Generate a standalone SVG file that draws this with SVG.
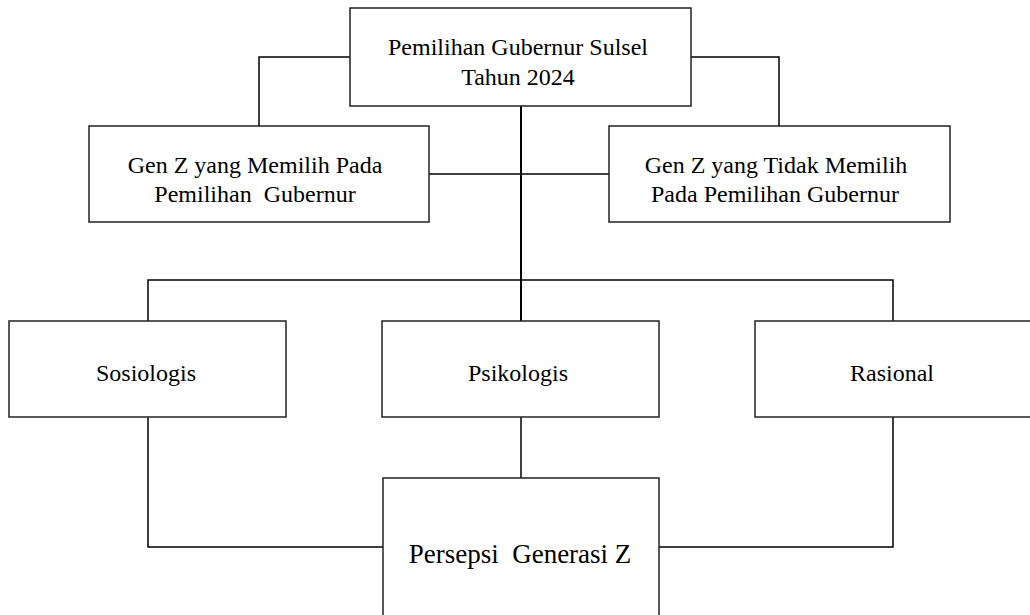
<svg xmlns="http://www.w3.org/2000/svg" width="1030" height="615" viewBox="0 0 1030 615">
<style>
.box{fill:#fff;stroke:#222;stroke-width:1.5}
.ln{fill:none;stroke:#000;stroke-width:1.5}
text{font-family:"Liberation Serif","Times New Roman",serif;font-size:24px;fill:#000;text-anchor:middle;white-space:pre}
.big{font-size:27px}
</style>
<rect width="1030" height="615" fill="#fff"/>
<g id="connectors">
<polyline class="ln" points="350,57 259,57 259,126"/>
<polyline class="ln" points="691,57 779,57 779,126"/>
<line class="ln" x1="521" y1="106" x2="521" y2="321" style="stroke-width:2"/>
<line class="ln" x1="429" y1="174" x2="609" y2="174"/>
<polyline class="ln" points="148,321 148,280 893,280 893,321"/>
<polyline class="ln" points="148,417 148,547 383,547"/>
<line class="ln" x1="521" y1="417" x2="521" y2="478"/>
<polyline class="ln" points="893,417 893,547 659,547"/>
</g>
<g id="top">
<rect class="box" x="350" y="8" width="341" height="98"/>
<text x="518" y="55">Pemilihan Gubernur Sulsel</text>
<text x="518" y="85">Tahun 2024</text>
</g>
<g id="memilih">
<rect class="box" x="89" y="126" width="340" height="96"/>
<text x="255" y="173">Gen Z yang Memilih Pada</text>
<text x="255" y="202">Pemilihan  Gubernur</text>
</g>
<g id="tidak-memilih">
<rect class="box" x="609" y="126" width="341" height="96"/>
<text x="776" y="173">Gen Z yang Tidak Memilih</text>
<text x="775" y="202">Pada Pemilihan Gubernur</text>
</g>
<g id="sosiologis">
<rect class="box" x="9" y="321" width="277" height="96"/>
<text x="146" y="381">Sosiologis</text>
</g>
<g id="psikologis">
<rect class="box" x="382" y="321" width="277" height="96"/>
<text x="518" y="381">Psikologis</text>
</g>
<g id="rasional">
<rect class="box" x="755" y="321" width="280" height="96"/>
<text x="892" y="381">Rasional</text>
</g>
<g id="persepsi">
<rect class="box" x="383" y="478" width="276" height="150"/>
<text class="big" x="520" y="563">Persepsi  Generasi Z</text>
</g>
</svg>
